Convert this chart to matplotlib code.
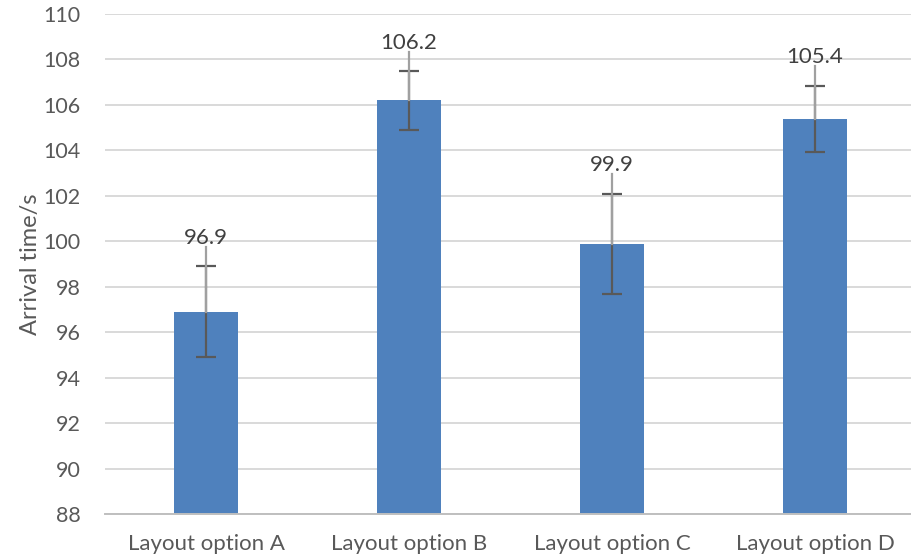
"""Arrival time per layout option, bar chart with error bars."""
import matplotlib
matplotlib.use("Agg")
import matplotlib.pyplot as plt
import numpy as np

categories = ["Layout option A", "Layout option B", "Layout option C", "Layout option D"]
arrival = [96.9, 106.2, 99.9, 105.4]
err = [2.0, 1.3, 2.2, 1.45]

plt.rcParams["font.family"] = ["Lato", "DejaVu Sans"]

fig = plt.figure(figsize=(9.11, 5.57), dpi=100)
ax = fig.add_axes([104.5 / 911, 43 / 557, (911 - 104.5) / 911, 500 / 557])

x = np.arange(len(categories))
bottom = 88
ax.bar(x, np.array(arrival) - bottom, bottom=bottom, width=0.315,
       color="#4f81bd", zorder=2)

ax.errorbar(x, arrival, yerr=err, fmt="none", ecolor="#595959", elinewidth=1.6,
            capsize=7, capthick=1.6, zorder=4)
# the part above the bar and the leader up to the label look lighter
for xi, v, e in zip(x, arrival, err):
    ax.plot([xi, xi], [v, v + e + 0.85], color="#a0a0a0", lw=1.6, zorder=4.5)

for xi, v, e in zip(x, arrival, err):
    ax.text(xi, v + e + 0.8, f"{v:.1f}", ha="center", va="bottom",
            fontsize=16, color="#404040", zorder=5)

ax.set_ylim(88, 110)
ax.set_yticks(np.arange(88, 111, 2))
ax.set_xlim(-0.5, 3.5 - 5.5 / 203)
ax.set_xticks(x)
ax.set_xticklabels(categories)
ax.tick_params(axis="both", length=0, labelcolor="#595959")
ax.tick_params(axis="y", pad=17, labelsize=15.5)
ax.tick_params(axis="x", pad=14.5, labelsize=16)
ax.grid(axis="y", color="#d9d9d9", lw=1.4, zorder=0)
ax.set_axisbelow(True)
for s in ["top", "right", "left"]:
    ax.spines[s].set_visible(False)
ax.spines["bottom"].set_color("#bfbfbf")
ax.spines["bottom"].set_linewidth(1.4)
ax.set_ylabel("Arrival time/s", fontsize=17, color="#595959", labelpad=2)

fig.savefig("out.png", dpi=100)
